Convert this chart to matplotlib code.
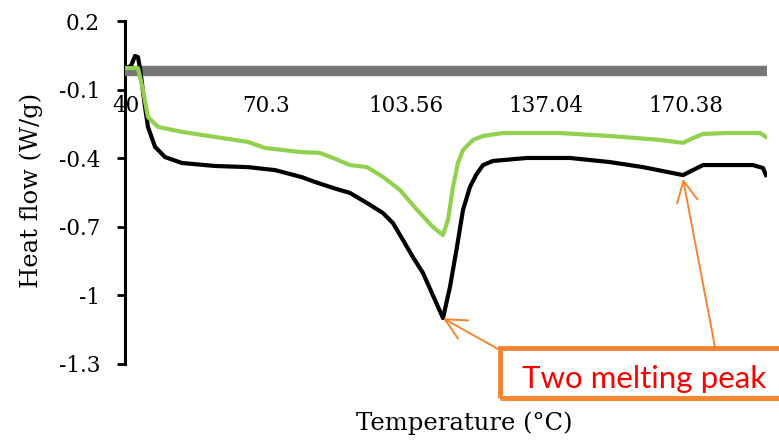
import matplotlib
matplotlib.use("Agg")
import matplotlib.pyplot as plt
from matplotlib.patches import Rectangle
import numpy as np

# ---- data ----
black_T = [39.77, 41.16, 42.09, 42.79, 43.25, 44.42, 45.11, 46.74, 49.06, 53.01,
           60.68, 68.35, 74.63, 80.90, 83.92, 88.11, 92.06, 96.01, 99.73, 102.05,
           104.38, 106.70, 109.02, 111.34, 113.67, 115.30, 116.92, 118.32, 119.94, 121.34,
           122.97, 125.29, 133.19, 143.19, 152.48, 160.15, 165.73, 169.45, 171.77, 174.09,
           179.67, 185.71, 188.04, 188.74]
black_H = [-0.006, 0.003, 0.047, 0.042, -0.006, -0.176, -0.263, -0.350, -0.395, -0.421,
           -0.434, -0.439, -0.452, -0.483, -0.504, -0.530, -0.552, -0.596, -0.640, -0.684,
           -0.758, -0.833, -0.902, -1.000, -1.099, -0.963, -0.788, -0.626, -0.526, -0.474,
           -0.430, -0.412, -0.399, -0.399, -0.417, -0.439, -0.460, -0.474, -0.452, -0.430,
           -0.430, -0.430, -0.443, -0.474]

green_T = [39.77, 42.79, 43.95, 45.11, 47.44, 53.01, 60.68, 68.35, 72.30, 80.44,
           85.09, 88.11, 92.06, 96.01, 99.73, 103.68, 107.63, 111.34, 113.67, 114.83,
           115.99, 117.15, 118.32, 120.64, 122.97, 127.61, 140.86, 152.48, 164.10, 169.45,
           171.77, 174.09, 179.67, 187.34, 188.74]
green_H = [-0.006, -0.006, -0.102, -0.220, -0.263, -0.285, -0.307, -0.329, -0.355, -0.373,
           -0.377, -0.399, -0.430, -0.439, -0.482, -0.539, -0.626, -0.701, -0.736, -0.670,
           -0.526, -0.421, -0.364, -0.320, -0.303, -0.290, -0.290, -0.303, -0.320, -0.333,
           -0.312, -0.294, -0.290, -0.290, -0.307]

baseline_H = -0.02

x_tick_labels = ["40", "70.3", "103.56", "137.04", "170.38"]
y_ticks = [0.2, -0.1, -0.4, -0.7, -1.0, -1.3]
y_tick_labels = ["0.2", "-0.1", "-0.4", "-0.7", "-1", "-1.3"]

peak1 = (113.67, -1.10)
peak2 = (169.45, -0.49)

# ---- figure ----
W, H = 779, 442
fig = plt.figure(figsize=(W / 100, H / 100), dpi=100)
ax = fig.add_axes([125 / W, 1 - 364 / H, (767 - 125) / W, (364 - 21) / H])

serif = "DejaVu Serif"
orange = "#F8842F"

ax.plot(black_T, black_H, color="black", lw=3.0, zorder=3, solid_joinstyle="round")
ax.plot(green_T, green_H, color="#92D050", lw=3.0, zorder=4, solid_joinstyle="round")

ax.set_xlim(39.77, 188.97)
ax.set_ylim(-1.3, 0.2)

# axes styling
for s in ["top", "right"]:
    ax.spines[s].set_visible(False)
ax.spines["left"].set_linewidth(2.2)
ax.spines["left"].set_color("black")
ax.spines["bottom"].set_position(("data", baseline_H))
ax.spines["bottom"].set_color("#767676")
ax.spines["bottom"].set_linewidth(7.5)
ax.spines["bottom"].set_capstyle("butt")

ax.set_yticks(y_ticks)
ax.set_yticklabels(y_tick_labels, fontfamily=serif, fontsize=15.5)
ax.tick_params(axis="y", direction="out", length=6, width=2, pad=12, colors="black")

xt = np.linspace(40, 40 + 4 * 32.54, len(x_tick_labels))
ax.set_xticks(xt)
ax.set_xticklabels(x_tick_labels, fontfamily=serif, fontsize=15.5)
ax.tick_params(axis="x", length=0, pad=17)
for lbl in ax.get_xticklabels():
    lbl.set_zorder(1)

fig.text(31 / W, 1 - 190 / H, "Heat flow (W/g)", rotation=90, ha="center", va="center",
         fontfamily=serif, fontsize=17.5)
fig.text(464 / W, 1 - 423 / H, "Temperature (°C)", ha="center", va="center",
         fontfamily=serif, fontsize=17.5)

# annotation box
rect = Rectangle((500 / W, 1 - 398 / H), 290 / W, 50 / H, transform=fig.transFigure,
                 fill=False, edgecolor=orange, lw=3.5, clip_on=False)
fig.add_artist(rect)
fig.text(522 / W, 1 - 388 / H, "Two melting peak", color="#FF0000", fontfamily="Lato",
         fontsize=22.5, ha="left", va="baseline")

arrowprops = dict(arrowstyle="->,head_length=1.0,head_width=0.5", color=orange, lw=1.4,
                  shrinkA=0, shrinkB=0, mutation_scale=15)
ax.annotate("", xy=peak1, xycoords="data", xytext=(498 / W, 1 - 349 / H),
            textcoords="figure fraction", arrowprops=arrowprops)
ax.annotate("", xy=peak2, xycoords="data", xytext=(715 / W, 1 - 347 / H),
            textcoords="figure fraction", arrowprops=arrowprops)

fig.savefig("out.png", dpi=100)
